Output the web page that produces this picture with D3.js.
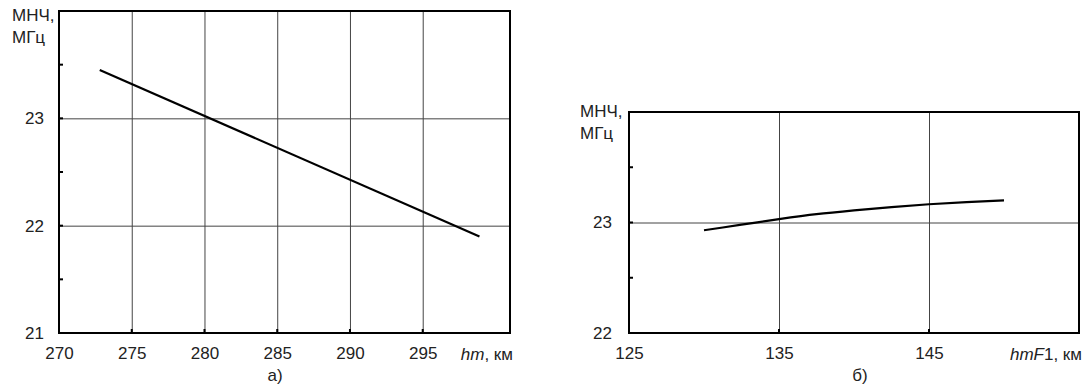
<!DOCTYPE html>
<html>
<head>
<meta charset="utf-8">
<script src="https://cdn.jsdelivr.net/npm/d3@7"></script>
<style>
  body { margin: 0; background: #fff; }
  svg { display: block; font-family: "Liberation Sans", Arial, sans-serif; }
  .grid line { stroke: #444; stroke-width: 1; }
  .grid .domain { display: none; }
  .grid text { font-size: 17px; fill: #222; }
  .lbl { font-size: 17px; fill: #222; }
</style>
</head>
<body>
<svg id="chart" width="1086" height="387"></svg>
<script>
// panel а) : МНЧ vs hm
const hmValues = [272.8, 298.9];
const hmMuf = [23.45, 21.9];
const hmTicks = [270, 275, 280, 285, 290, 295];
const hmYTicks = [21, 22, 23];
const hmYMinor = [21.5, 22.5, 23.5];

// panel б) : МНЧ vs hmF1
const hmf1Values = [130, 132.5, 135, 137.5, 140, 142.5, 145, 147.5, 150];
const hmf1Muf = [22.93, 22.98, 23.03, 23.075, 23.11, 23.14, 23.165, 23.185, 23.2];
const hmf1Ticks = [125, 135, 145];
const hmf1YTicks = [22, 23];
const hmf1YMinor = [22.5, 23.5];

const svg = d3.select('#chart');

const drawPanel = cfg => {
  const x = d3.scaleLinear().domain(cfg.xDomain).range([cfg.left, cfg.right]);
  const y = d3.scaleLinear().domain(cfg.yDomain).range([cfg.bottom, cfg.top]);
  const w = cfg.right - cfg.left;
  const h = cfg.bottom - cfg.top;

  const g = svg.append('g');

  // x grid + labels
  g.append('g')
    .attr('class', 'grid')
    .attr('transform', `translate(0,${cfg.bottom})`)
    .call(d3.axisBottom(x).tickValues(cfg.xTicks).tickSize(-h).tickPadding(14).tickFormat(d => d));

  // y grid + labels
  g.append('g')
    .attr('class', 'grid')
    .attr('transform', `translate(${cfg.left},0)`)
    .call(d3.axisLeft(y).tickValues(cfg.yTicks).tickSize(-w).tickPadding(cfg.yPad).tickFormat(d => d));

  // short inward tick marks
  g.selectAll('.ytick')
    .data(cfg.yTicks.concat(cfg.yMinor))
    .join('line')
    .attr('x1', cfg.left).attr('x2', cfg.left + 4)
    .attr('y1', d => y(d)).attr('y2', d => y(d))
    .attr('stroke', '#000').attr('stroke-width', 2);

  g.selectAll('.xtick')
    .data(cfg.xTicks)
    .join('line')
    .attr('x1', d => x(d)).attr('x2', d => x(d))
    .attr('y1', cfg.bottom).attr('y2', cfg.bottom - 4)
    .attr('stroke', '#000').attr('stroke-width', 2);

  // frame
  g.append('rect')
    .attr('x', cfg.left).attr('y', cfg.top)
    .attr('width', w).attr('height', h)
    .attr('fill', 'none').attr('stroke', '#000').attr('stroke-width', 2);

  const line = d3.line()
    .x((d, i) => x(cfg.xs[i]))
    .y(d => y(d))
    .curve(d3.curveMonotoneX);

  g.append('path')
    .attr('d', line(cfg.ys))
    .attr('fill', 'none')
    .attr('stroke', '#000')
    .attr('stroke-width', 2.2);

  // y title
  g.append('text').attr('class', 'lbl')
    .attr('x', cfg.titleX).attr('y', cfg.titleY).text('МНЧ,');
  g.append('text').attr('class', 'lbl')
    .attr('x', cfg.titleX).attr('y', cfg.titleY + 22).text('МГц');

  // x title
  const xt = g.append('text').attr('class', 'lbl')
    .attr('x', cfg.right + 3).attr('y', cfg.bottom + 27)
    .attr('text-anchor', 'end');
  xt.append('tspan').attr('font-style', 'italic').text(cfg.xName);
  if (cfg.xSub) xt.append('tspan').text(cfg.xSub);
  xt.append('tspan').text(', км');

  // panel letter
  g.append('text').attr('class', 'lbl')
    .attr('x', cfg.letterX).attr('y', cfg.bottom + 48)
    .attr('text-anchor', 'middle')
    .text(cfg.letter);
};

drawPanel({
  left: 59, right: 510, top: 11, bottom: 333,
  xDomain: [270, 301], yDomain: [21, 24],
  xTicks: hmTicks, yTicks: hmYTicks, yMinor: hmYMinor, yPad: 15,
  xs: hmValues, ys: hmMuf,
  titleX: 12, titleY: 21,
  xName: 'hm', xSub: '', letter: 'а)', letterX: 275
});

drawPanel({
  left: 629, right: 1079, top: 112, bottom: 333,
  xDomain: [125, 155], yDomain: [22, 24],
  xTicks: hmf1Ticks, yTicks: hmf1YTicks, yMinor: hmf1YMinor, yPad: 17,
  xs: hmf1Values, ys: hmf1Muf,
  titleX: 580, titleY: 117,
  xName: 'hmF', xSub: '1', letter: 'б)', letterX: 860
});
</script>
</body>
</html>
